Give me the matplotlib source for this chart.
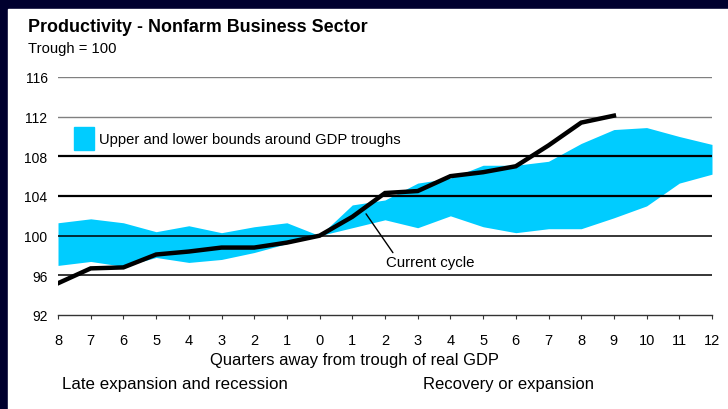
import numpy as np
import matplotlib.pyplot as plt
from matplotlib.patches import Rectangle

plt.rcParams['font.family'] = ['Liberation Sans', 'DejaVu Sans']

# quarters from trough of real GDP
quarters = list(range(-8, 13))
tick_labels = [str(abs(q)) for q in quarters]

# upper / lower bounds around GDP troughs
upper = [101.3, 101.7, 101.3, 100.4, 101.0, 100.3, 100.9, 101.3, 100.0, 103.1, 103.6,
         105.3, 105.8, 107.1, 107.1, 107.5, 109.3, 110.7, 110.9, 110.0, 109.2]
lower = [97.0, 97.4, 96.9, 97.8, 97.3, 97.6, 98.3, 99.2, 100.0, 100.8, 101.6,
         100.8, 102.0, 100.9, 100.3, 100.7, 100.7, 101.8, 103.0, 105.3, 106.2]

# current cycle
cur_q = list(range(-8, 10))
current = [95.2, 96.7, 96.8, 98.1, 98.4, 98.8, 98.8, 99.3, 100.0, 101.9, 104.3,
           104.5, 106.0, 106.4, 107.0, 109.1, 111.4, 112.1]

cyan = '#00CCFF'

fig = plt.figure(figsize=(7.28, 4.10), dpi=100)
fig.patch.set_facecolor('white')
# dark frame (slide background)
fig.patches.append(Rectangle((0, 0), 1, 1, transform=fig.transFigure, color='#00002e', zorder=-10))
fig.patches.append(Rectangle((8/728, 0), 1, 1 - 10/410, transform=fig.transFigure, color='white', zorder=-9))

ax = fig.add_axes([58/728, 1 - 316/410, 654/728, 238/410])
ax.set_facecolor('none')
ax.set_xlim(-8, 12)
ax.set_ylim(92, 116)

ax.fill_between(quarters, lower, upper, color=cyan, lw=0, zorder=1)

for y, c, w in [(116, '#808080', 1.0), (112, '#808080', 1.0), (108, 'black', 1.6),
                (104, 'black', 1.6), (100, 'black', 1.1), (96, 'black', 1.1)]:
    ax.axhline(y, color=c, lw=w, zorder=2)

ax.plot(cur_q, current, color='black', lw=3.2, solid_joinstyle='miter', zorder=3)

for s in ['top', 'right', 'left']:
    ax.spines[s].set_visible(False)
ax.spines['bottom'].set_color('#333333')
ax.spines['bottom'].set_linewidth(1.0)

ax.set_xticks(quarters)
ax.set_xticklabels(tick_labels, fontsize=10.5)
ax.tick_params(axis='x', direction='out', length=3, color='#333333', pad=10)
ax.set_yticks([92, 96, 100, 104, 108, 112, 116])
ax.tick_params(axis='y', length=0, pad=7.5, labelsize=10)

# legend
ax.add_patch(Rectangle((74/728, 1 - 151/410), 20/728, 23/410, transform=fig.transFigure,
                       color=cyan, clip_on=False))
fig.text(99/728, 1 - 140/410, 'Upper and lower bounds around GDP troughs', fontsize=10.6,
         va='center', ha='left')

# annotation
ax.annotate('Current cycle', xy=(1.42, 102.2), xytext=(2.03, 97.3),
            fontsize=10.8, ha='left', va='center',
            arrowprops=dict(arrowstyle='-', color='black', lw=1.0, shrinkA=0, shrinkB=0,
                            relpos=(0.1, 1.0)))

fig.text(28/728, 1 - 27/410, 'Productivity - Nonfarm Business Sector', fontsize=12.9,
         fontweight='bold', va='center', ha='left')
fig.text(28/728, 1 - 49/410, 'Trough = 100', fontsize=10.6, va='center', ha='left')
fig.text(354/728, 1 - 361/410, 'Quarters away from trough of real GDP', fontsize=11.9,
         va='center', ha='center')
fig.text(62/728, 1 - 385/410, 'Late expansion and recession', fontsize=12.2,
         va='center', ha='left')
fig.text(423/728, 1 - 385/410, 'Recovery or expansion', fontsize=12,
         va='center', ha='left')

fig.savefig('out.png', dpi=100)
